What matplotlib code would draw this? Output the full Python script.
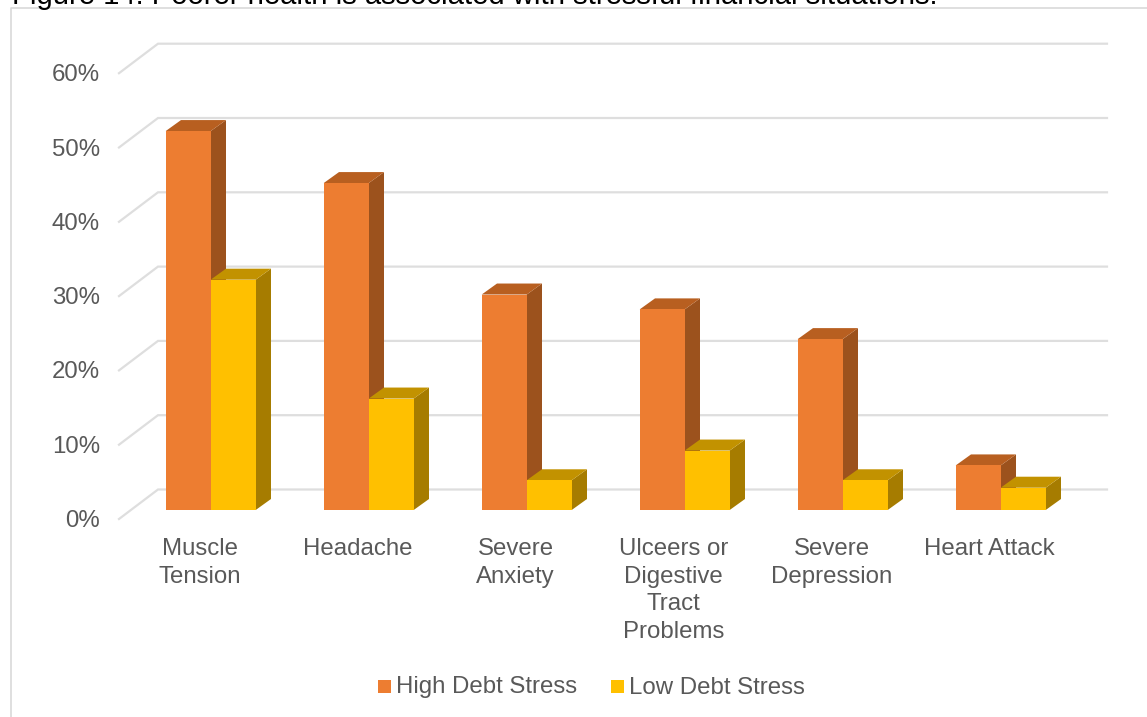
import matplotlib
matplotlib.use('Agg')
import matplotlib.pyplot as plt
from matplotlib.patches import Polygon, Rectangle

plt.rcParams['font.family'] = ['Liberation Sans', 'DejaVu Sans']

# Data
categories = ['Muscle\nTension', 'Headache', 'Severe\nAnxiety',
              'Ulceers or\nDigestive\nTract\nProblems', 'Severe\nDepression', 'Heart Attack']
high_debt = [51, 44, 29, 27, 23, 6]
low_debt = [31, 15, 4, 8, 4, 3]
y_ticks = [0, 10, 20, 30, 40, 50, 60]
series_names = ['High Debt Stress', 'Low Debt Stress']

W, H = 1147, 717
PX_PER_CAT = 158.0
PX_PER_PCT = 7.43
X0, Y0 = 210.7, 510.0      # pixel of category 0 centre / 0% on front plane

fig = plt.figure(figsize=(W / 100, H / 100), dpi=100)
ax = fig.add_axes([0, 0, 1, 1])
# data axes: category index on x, percent on y
ax.set_xlim(-X0 / PX_PER_CAT, (W - X0) / PX_PER_CAT)
ax.set_ylim((Y0 - H) / PX_PER_PCT, Y0 / PX_PER_PCT)
ax.axis('off')

bar_w = 45 / PX_PER_CAT
dx = 15.3 / PX_PER_CAT
dy = 11 / PX_PER_PCT

grey = '#595959'
grid = '#dedede'
fs = 17.3

def px(x, y):
    return (x - X0) / PX_PER_CAT, (Y0 - y) / PX_PER_PCT

# chart frame
fx0, fy0 = px(11, 716.5)
fx1, fy1 = px(1147, 8)
ax.plot([fx0, fx0, fx1], [fy0, fy1, fy1], color='#d9d9d9', lw=1.2, solid_capstyle='butt')

# gridlines on the side and back wall
for t in y_ticks:
    back_y = t + 20.5 / PX_PER_PCT
    front_y = t - 9 / PX_PER_PCT
    xa, _ = px(119, 0)
    xb, _ = px(158, 0)
    xc, _ = px(1107, 0)
    ax.plot([xa, xb, xc], [front_y, back_y, back_y], color=grid, lw=1.6, zorder=1,
            solid_joinstyle='miter')
    ax.text(px(100, 0)[0], t - 11 / PX_PER_PCT, f'{t}%', ha='right', va='center',
            fontsize=fs, color=grey)


def box(left, value, front, side, top):
    right = left + bar_w
    ax.add_patch(Polygon([(right, 0), (right + dx, dy), (right + dx, value + dy), (right, value)],
                         facecolor=side, edgecolor='none', zorder=3))
    ax.add_patch(Polygon([(left, value), (left + dx, value + dy), (right + dx, value + dy), (right, value)],
                         facecolor=top, edgecolor='none', zorder=3))
    ax.add_patch(Rectangle((left, 0), bar_w, value, facecolor=front, edgecolor='none', zorder=4))


for i, (hi, lo) in enumerate(zip(high_debt, low_debt)):
    box(i - bar_w, hi, '#ed7d31', '#9c521d', '#b85f20')
    box(i, lo, '#ffc000', '#a67c00', '#c29200')
    ax.text(i - 11 / PX_PER_CAT, px(0, 538)[1], categories[i], ha='center', va='top', fontsize=fs,
            color=grey, linespacing=1.33)

# legend
sw = 13
for name, color, sx, tx in zip(series_names, ['#ed7d31', '#ffc000'], [378, 611], [396.5, 629]):
    x0, y0 = px(sx, 693)
    ax.add_patch(Rectangle((x0, y0), sw / PX_PER_CAT, sw / PX_PER_PCT, facecolor=color, edgecolor='none'))
    ax.text(px(tx, 0)[0], px(0, 693.5)[1], name, ha='left', va='baseline', fontsize=fs, color=grey)

# title cut by the top of the image, as in the source
ax.text(px(12, 0)[0], px(0, 4)[1], 'Figure 14: Poorer health is associated with stressful financial situations.',
        ha='left', va='baseline', fontsize=21.1, color='black', clip_on=False)

fig.savefig('out.png', dpi=100)
